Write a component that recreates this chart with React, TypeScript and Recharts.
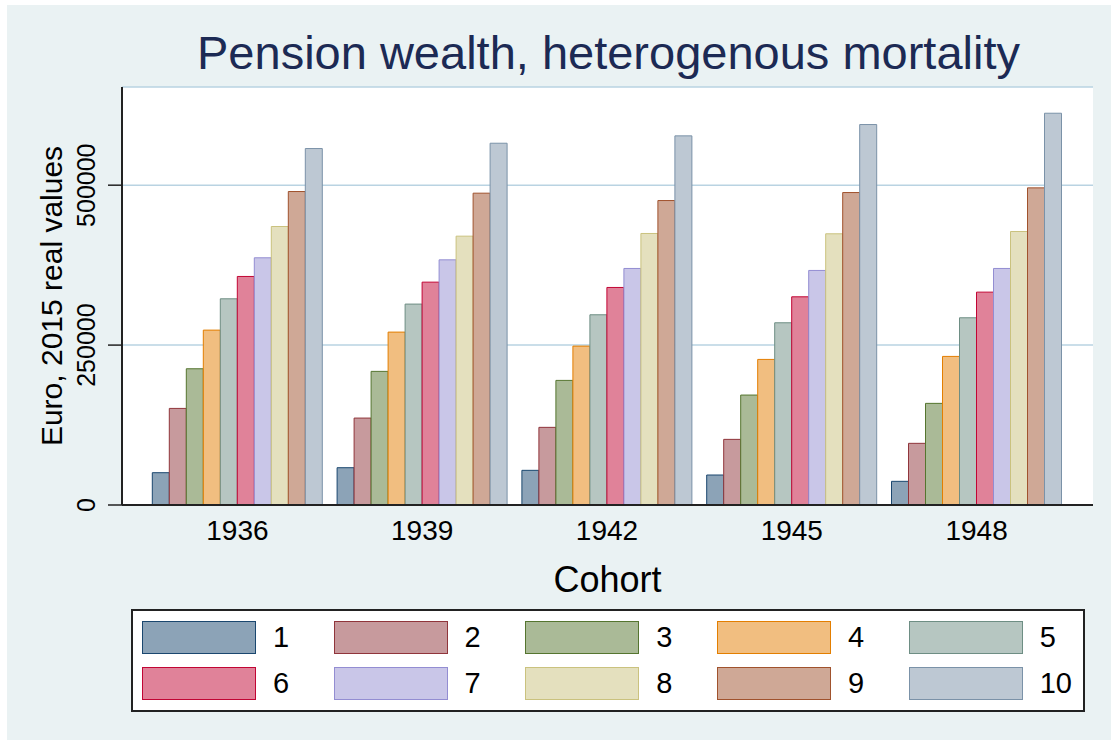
import { BarChart, Bar, XAxis, YAxis, CartesianGrid, Legend, Label } from 'recharts';

const cohorts = ['1936', '1939', '1942', '1945', '1948'];
const deciles = ['1', '2', '3', '4', '5', '6', '7', '8', '9', '10'];

// pension wealth by income decile, one value per cohort (euro, 2015 real values)
const decile1 = [50500, 58300, 54200, 46900, 37000];
const decile2 = [151000, 135900, 121400, 102600, 96400];
const decile3 = [213000, 208900, 194800, 171900, 158900];
const decile4 = [273400, 270300, 248400, 227600, 232300];
const decile5 = [322400, 314100, 297400, 284900, 292700];
const decile6 = [357300, 348400, 340100, 325500, 332800];
const decile7 = [386500, 383300, 369800, 366700, 369800];
const decile8 = [435400, 420300, 424500, 424000, 427600];
const decile9 = [490100, 487500, 476000, 488500, 495800];
const decile10 = [557300, 565600, 577100, 594800, 612500];

const yTicks = [0, 250000, 500000];

const decileValues = [decile1, decile2, decile3, decile4, decile5, decile6, decile7, decile8, decile9, decile10];

const data = cohorts.map((cohort, i) => {
  const row: Record<string, string | number> = { cohort };
  deciles.forEach((d, j) => {
    row['d' + d] = decileValues[j][i];
  });
  return row;
});

// stata s2color, bars at half intensity
const FILLS = ['#8ca3b7', '#c79a9d', '#aaba97', '#f1be80', '#b6c6c1', '#e08299', '#c9c6e8', '#e4e0be', '#cfa896', '#bdc8d3'];
const STROKES = ['#1a476f', '#90353b', '#55752f', '#e37e00', '#6e8e84', '#c10534', '#938dd2', '#cac27e', '#a0522d', '#7b92a8'];

const FONT = '"Liberation Sans", Arial, sans-serif';
const AXIS = '#222';

function CohortTick({ x, y, payload }: any) {
  return (
    <text x={x} y={y + 35} textAnchor="middle" fontSize={28} fontFamily={FONT} fill="#000">
      {payload.value}
    </text>
  );
}

function WealthTick({ x, y, payload }: any) {
  const tx = x - 13;
  return (
    <text
      x={tx}
      y={y}
      transform={`rotate(-90 ${tx} ${y})`}
      textAnchor="middle"
      fontSize={25}
      fontFamily={FONT}
      fill="#000"
    >
      {payload.value}
    </text>
  );
}

function DecileLegend() {
  return (
    <div style={{ position: 'relative', width: '100%', height: '100%' }}>
      {deciles.map((d, i) => {
        const col = i % 5;
        const row = Math.floor(i / 5);
        return (
          <div
            key={d}
            style={{
              position: 'absolute',
              left: 9.3 + col * 191.7,
              top: 9.7 + row * 46.3,
              height: 33,
              display: 'flex',
              alignItems: 'center',
            }}
          >
            <div
              style={{
                width: 114,
                height: 33,
                boxSizing: 'border-box',
                background: FILLS[i],
                border: `1px solid ${STROKES[i]}`,
              }}
            />
            <span style={{ marginLeft: 17, fontSize: 29, lineHeight: '33px', fontFamily: FONT, color: '#000' }}>{d}</span>
          </div>
        );
      })}
    </div>
  );
}

export default function App() {
  return (
    <div style={{ position: 'fixed', left: 7, top: 5, width: 1104, height: 735, background: '#eaf2f3' }}>
      <BarChart
        width={1104}
        height={735}
        data={data}
        margin={{ top: 82, right: 18, left: 0, bottom: 0 }}
        barCategoryGap={7.3}
        barGap={0}
      >
        <CartesianGrid vertical={false} fill="#fff" stroke="#b9d3e2" strokeWidth={1.5} />
        <XAxis
          dataKey="cohort"
          interval={0}
          height={132}
          padding={{ left: 23, right: 24 }}
          tickLine={false}
          tickSize={0}
          tickMargin={0}
          axisLine={{ stroke: AXIS, strokeWidth: 2 }}
          tick={<CohortTick />}
        >
          <Label
            content={(props: any) => {
              const vb = props.viewBox;
              return (
                <text x={vb.x + vb.width / 2} y={vb.y + 87} textAnchor="middle" fontSize={36} fontFamily={FONT} fill="#000">
                  Cohort
                </text>
              );
            }}
          />
        </XAxis>
        <YAxis
          type="number"
          domain={[0, 653500]}
          ticks={yTicks}
          interval={0}
          width={115}
          tickSize={14}
          tickMargin={0}
          axisLine={{ stroke: AXIS, strokeWidth: 2 }}
          tickLine={{ stroke: AXIS, strokeWidth: 1.5 }}
          tick={<WealthTick />}
        >
          <Label
            content={(props: any) => {
              const vb = props.viewBox;
              const cy = vb.y + vb.height / 2;
              return (
                <text
                  x={55}
                  y={cy}
                  transform={`rotate(-90 55 ${cy})`}
                  textAnchor="middle"
                  fontSize={30}
                  fontFamily={FONT}
                  fill="#000"
                >
                  Euro, 2015 real values
                </text>
              );
            }}
          />
        </YAxis>
        <Legend
          verticalAlign="bottom"
          wrapperStyle={{
            left: 123.6,
            top: 604,
            width: 954,
            height: 103,
            boxSizing: 'border-box',
            border: '2px solid #222',
            background: '#fff',
          }}
          content={() => <DecileLegend />}
        />
        {deciles.map((d, i) => (
          <Bar
            key={d}
            dataKey={'d' + d}
            name={d}
            fill={FILLS[i]}
            stroke={STROKES[i]}
            strokeWidth={1}
            isAnimationActive={false}
          />
        ))}
      </BarChart>
      <div
        style={{
          position: 'absolute',
          left: 101.5,
          top: 21,
          width: 1000,
          textAlign: 'center',
          fontFamily: FONT,
          fontSize: 47,
          lineHeight: '54px',
          color: '#1c2a54',
          whiteSpace: 'nowrap',
        }}
      >
        Pension wealth, heterogenous mortality
      </div>
    </div>
  );
}
